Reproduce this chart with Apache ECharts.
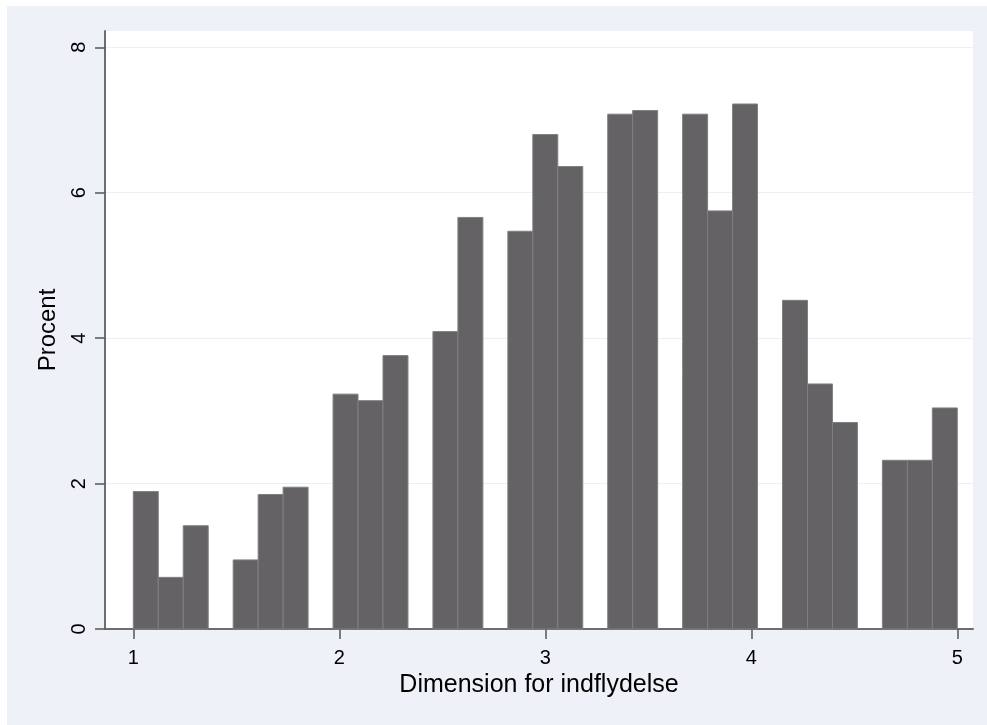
<!DOCTYPE html>
<html>
<head>
<meta charset="utf-8">
<script src="https://cdn.jsdelivr.net/npm/echarts@6/dist/echarts.min.js"></script>
<style>
html,body{margin:0;padding:0;background:#fff;}
#chart{width:987px;height:725px;}
</style>
</head>
<body>
<div id="chart"></div>
<script>
// Histogram: 33 bins of equal width from 1 to 5
const binStart = 1;
const binEnd = 5;
const binCount = 33;
const percent = [1.89, 0.71, 1.42, 0, 0.95, 1.85, 1.95, 0, 3.23, 3.14, 3.76, 0,
                 4.09, 5.66, 0, 5.47, 6.80, 6.36, 0, 7.08, 7.13, 0, 7.08, 5.75,
                 7.22, 0, 4.52, 3.37, 2.84, 0, 2.32, 2.32, 3.04];
const xTicks = [1, 2, 3, 4, 5];
const yTicks = [0, 2, 4, 6, 8];
const xTitle = 'Dimension for indflydelse';
const yTitle = 'Procent';

const binWidth = (binEnd - binStart) / binCount;
const bins = percent.map((v, i) => [binStart + i * binWidth, binStart + (i + 1) * binWidth, v])
                    .filter(d => d[2] > 0);

const font = "'Liberation Sans', Arial, sans-serif";
const chart = echarts.init(document.getElementById('chart'), null, {renderer: 'canvas'});
chart.setOption({
  backgroundColor: '#EEF1F7',
  animation: false,
  graphic: [
    {type: 'rect', shape: {x: 0, y: 0, width: 987, height: 6}, style: {fill: '#fff'}},
    {type: 'rect', shape: {x: 0, y: 0, width: 7, height: 725}, style: {fill: '#fff'}}
  ],
  grid: {
    left: 105, right: 14, top: 31, bottom: 96,
    show: true, backgroundColor: '#ffffff', borderWidth: 0
  },
  xAxis: {
    type: 'value',
    min: 0.8626, max: 5.0762,
    name: xTitle,
    nameLocation: 'middle',
    nameGap: 42,
    nameTextStyle: {fontFamily: font, fontSize: 25, color: '#000'},
    axisLine: {show: true, onZero: false, lineStyle: {color: '#6e6e6e', width: 2}},
    axisTick: {show: true, length: 10, customValues: xTicks, lineStyle: {color: '#555', width: 1.5}},
    axisLabel: {customValues: xTicks, margin: 19, fontFamily: font, fontSize: 20, color: '#000'},
    splitLine: {show: false}
  },
  yAxis: {
    type: 'value',
    min: 0, max: 8.224, interval: 2,
    name: yTitle,
    nameLocation: 'middle',
    nameGap: 45,
    nameTextStyle: {fontFamily: font, fontSize: 24, color: '#000'},
    axisLine: {show: true, lineStyle: {color: '#6e6e6e', width: 2}},
    axisTick: {show: true, length: 10, customValues: yTicks, lineStyle: {color: '#555', width: 1.5}},
    axisLabel: {customValues: yTicks, rotate: 90, margin: 16, fontFamily: font, fontSize: 20, color: '#000'},
    splitLine: {show: true, lineStyle: {color: '#EAF0F6', width: 1}}
  },
  series: [{
    type: 'custom',
    data: bins,
    encode: {x: [0, 1], y: 2},
    renderItem: function (params, api) {
      const p0 = api.coord([api.value(0), api.value(2)]);
      const p1 = api.coord([api.value(1), 0]);
      return {
        type: 'rect',
        shape: {x: p0[0], y: p0[1], width: p1[0] - p0[0], height: p1[1] - p0[1]},
        style: {fill: '#646264', stroke: '#807f81', lineWidth: 1}
      };
    }
  }]
});
</script>
</body>
</html>
